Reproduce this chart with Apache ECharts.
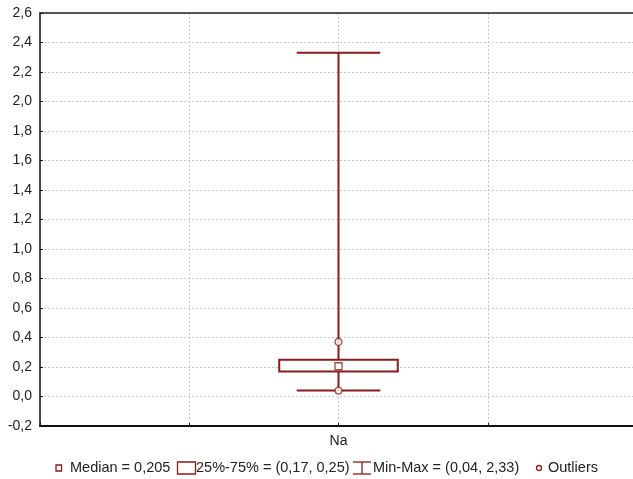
<!DOCTYPE html>
<html>
<head>
<meta charset="utf-8">
<script src="https://cdn.jsdelivr.net/npm/echarts@6/dist/echarts.min.js"></script>
<style>html,body{margin:0;padding:0;background:#fff;}#c{width:633px;height:479px;}</style>
</head>
<body>
<div id="c"></div>
<script>
var categories = ['Na'];
var minValues = [0.04];
var q1Values = [0.17];
var medianValues = [0.205];
var q3Values = [0.25];
var maxValues = [2.33];
var outlierValues = [[0.37, 0.04]];
var yTicks = { min: -0.2, max: 2.6, step: 0.2 };

var RED = '#8b1a1a';
var FONT = '"Liberation Sans", Arial, sans-serif';
function fmt(v, d) { return v.toFixed(d).replace('.', ','); }
function fmtAuto(v) { var s = String(Math.round(v * 1000) / 1000); return s.replace('.', ','); }

var boxData = categories.map(function (c, i) {
  return [0, minValues[i], q1Values[i], medianValues[i], q3Values[i], maxValues[i]];
});
var medianData = categories.map(function (c, i) { return [0, medianValues[i]]; });
var outlierData = [];
categories.forEach(function (c, i) {
  outlierValues[i].forEach(function (v) { outlierData.push([0, v]); });
});

var chart = echarts.init(document.getElementById('c'), null, { renderer: 'canvas' });
var ly = 468;
var LF = '14.5px ' + FONT;
var option = {
  animation: false,
  backgroundColor: '#fff',
  grid: { left: 40, top: 13, width: 597, bottom: 53, show: false, containLabel: false, outerBoundsMode: 'none' },
  xAxis: [{
    type: 'value', min: -2, max: 2, interval: 1,
    axisLine: { show: true, onZero: false, lineStyle: { color: '#111', width: 2 } },
    axisTick: { show: true, inside: true, length: 3, lineStyle: { color: '#111' } },
    axisLabel: { margin: 8, color: '#222', fontSize: 14, fontFamily: FONT,
      formatter: function (v) { return v === 0 ? categories[0] : ''; } },
    splitLine: { show: true, lineStyle: { color: '#c8c8c8', type: [2, 2], width: 1 } }
  }, {
    type: 'value', min: -2, max: 2, interval: 1, position: 'top',
    axisLine: { show: true, onZero: false, lineStyle: { color: '#222', width: 1.5 } },
    axisTick: { show: false }, axisLabel: { show: false }, splitLine: { show: false }
  }],
  yAxis: {
    type: 'value', min: yTicks.min, max: yTicks.max, interval: yTicks.step,
    axisLine: { show: true, onZero: false, lineStyle: { color: '#111', width: 1.5 } },
    axisTick: { show: true, inside: true, length: 3, lineStyle: { color: '#111' } },
    axisLabel: { margin: 8, color: '#222', fontSize: 14, fontFamily: FONT,
      formatter: function (v) { return fmt(v, 1); } },
    splitLine: { show: true, lineStyle: { color: '#c8c8c8', type: [2, 2], width: 1 } }
  },
  series: [
    {
      type: 'custom',
      data: boxData,
      z: 3,
      renderItem: function (params, api) {
        var x = api.value(0);
        var pMin = api.coord([x, api.value(1)]);
        var pQ1 = api.coord([x, api.value(2)]);
        var pQ3 = api.coord([x, api.value(4)]);
        var pMax = api.coord([x, api.value(5)]);
        var boxHalf = api.size([0.397, 0])[0];
        var capHalf = api.size([0.28, 0])[0];
        var ls = { stroke: RED, lineWidth: 2 };
        return {
          type: 'group',
          children: [
            { type: 'line', shape: { x1: pMin[0], y1: pMin[1], x2: pMax[0], y2: pMax[1] }, style: ls },
            { type: 'line', shape: { x1: pMax[0] - capHalf, y1: pMax[1], x2: pMax[0] + capHalf, y2: pMax[1] }, style: ls },
            { type: 'line', shape: { x1: pMin[0] - capHalf, y1: pMin[1], x2: pMin[0] + capHalf, y2: pMin[1] }, style: ls },
            { type: 'rect', shape: { x: pQ3[0] - boxHalf, y: pQ3[1], width: boxHalf * 2, height: pQ1[1] - pQ3[1] },
              style: { fill: '#fff', stroke: RED, lineWidth: 2 } }
          ]
        };
      }
    },
    {
      type: 'scatter', data: medianData, z: 5, symbol: 'rect', symbolSize: 7,
      itemStyle: { color: '#fff', borderColor: RED, borderWidth: 1.3 }
    },
    {
      type: 'scatter', data: outlierData, z: 5, symbol: 'circle', symbolSize: 7,
      itemStyle: { color: '#fff', borderColor: RED, borderWidth: 1.3 }
    }
  ],
  graphic: [
    { type: 'rect', shape: { x: 56, y: ly - 3, width: 5.5, height: 6 }, style: { fill: '#fff', stroke: RED, lineWidth: 1.3 } },
    { type: 'text', x: 70, y: ly, style: { text: 'Median = ' + fmtAuto(medianValues[0]), font: LF, fill: '#222', verticalAlign: 'middle' } },
    { type: 'rect', shape: { x: 177.5, y: ly - 6, width: 18, height: 12 }, style: { fill: '#fff', stroke: RED, lineWidth: 1.3 } },
    { type: 'text', x: 196, y: ly, style: { text: '25%-75% = (' + fmtAuto(q1Values[0]) + ', ' + fmtAuto(q3Values[0]) + ')', font: LF, fill: '#222', verticalAlign: 'middle' } },
    { type: 'polyline', shape: { points: [[353, ly - 6], [371, ly - 6]] }, style: { stroke: RED, lineWidth: 1.3 } },
    { type: 'polyline', shape: { points: [[353, ly + 6], [371, ly + 6]] }, style: { stroke: RED, lineWidth: 1.3 } },
    { type: 'polyline', shape: { points: [[362, ly - 6], [362, ly + 6]] }, style: { stroke: RED, lineWidth: 1.3 } },
    { type: 'text', x: 373, y: ly, style: { text: 'Min-Max = (' + fmtAuto(minValues[0]) + ', ' + fmtAuto(maxValues[0]) + ')', font: LF, fill: '#222', verticalAlign: 'middle' } },
    { type: 'circle', shape: { cx: 539, cy: ly, r: 2.5 }, style: { fill: '#fff', stroke: RED, lineWidth: 1.3 } },
    { type: 'text', x: 548, y: ly, style: { text: 'Outliers', font: LF, fill: '#222', verticalAlign: 'middle' } }
  ]
};
chart.setOption(option);
</script>
</body>
</html>
